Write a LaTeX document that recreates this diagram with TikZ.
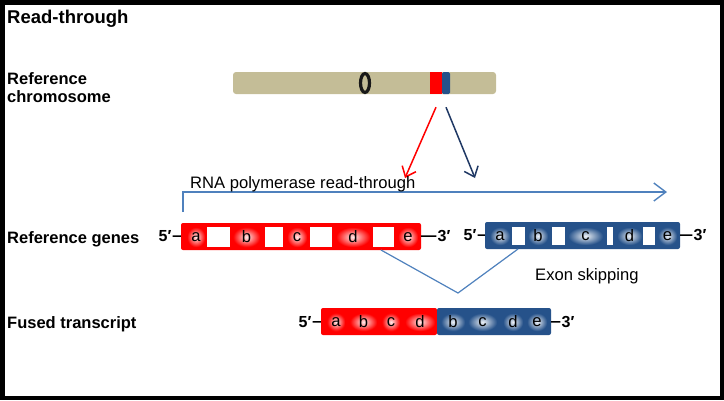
\documentclass[tikz,border=0pt]{standalone}
\usepackage{fontspec}
\setmainfont{Liberation Sans}
\usepackage{tikz}
\usetikzlibrary{shapes,calc,positioning,arrows.meta}

\definecolor{ChromTan}{RGB}{196,189,151}
\definecolor{GeneRed}{RGB}{255,0,0}
\definecolor{GeneBlue}{RGB}{38,82,138}
\definecolor{ArrowNavy}{RGB}{31,56,100}
\definecolor{PolBlue}{RGB}{79,129,189}

\tikzset{
  rowlbl/.style={font=\bfseries\fontsize{16.5}{18}\selectfont, inner sep=0pt},
  endlbl/.style={font=\bfseries\fontsize{16}{18}\selectfont, inner sep=1pt},
  exontxt/.style={font=\fontsize{16.6}{18}\selectfont},
  redexon/.style={rectangle, inner sep=0pt, minimum height=20pt, shading=radial, inner color=GeneRed!8, outer color=GeneRed, exontxt},
  blueexon/.style={rectangle, inner sep=0pt, minimum height=20pt, shading=radial, inner color=GeneBlue!8, outer color=GeneBlue, exontxt},
  genebox/.style={rectangle, rounded corners=2pt, inner sep=0pt, minimum height=27pt},
  tail/.style={line width=1.5pt},
}

\begin{document}
\begin{tikzpicture}[x=1pt,y=-1pt]
\useasboundingbox (0,0) rectangle (724,400);
% Frame
\draw[line width=4.5pt] (2.25,2.25) rectangle (721.75,397.75);

% Row labels
\node[rowlbl, font=\bfseries\fontsize{18.5}{22}\selectfont, anchor=base west] (title) at (7,23) {Read-through};
\node[rowlbl, align=left, anchor=north west] (chromlbl) at (7,72.5) {Reference\\chromosome};
\node[rowlbl, anchor=base west] (geneslbl) at (7,243) {Reference genes};
\node[rowlbl, anchor=base west] (fusedlbl) at (7,328) {Fused transcript};

% Chromosome with centromere and the two loci
\node[fill=ChromTan, rounded corners=3pt, minimum width=263pt, minimum height=22pt, inner sep=0pt] (chrom) at (364.5,83) {};
\node[draw=black!90, line width=3.2pt, fill=ChromTan, ellipse, minimum width=9pt, minimum height=19pt, inner sep=0pt] (centro) at (365,83) {};
\node[fill=GeneRed, minimum width=12pt, minimum height=22pt, inner sep=0pt] (redband) at (436,83) {};
\node[fill=GeneBlue, rounded corners=1.5pt, minimum width=8pt, minimum height=22pt, inner sep=0pt] (blueband) at (446,83) {};

% Arrows down to the genes
\coordinate (redtip) at (405,178);
\coordinate (bluetip) at (475,178);
\draw[GeneRed, line width=1.5pt, -{Straight Barb[length=9pt,width=15pt]}] ([yshift=-13pt]redband.south) -- (redtip);
\draw[ArrowNavy, line width=1.5pt, -{Straight Barb[length=9pt,width=15pt]}] ([yshift=-13pt]blueband.south) -- (bluetip);

% Read-through
\coordinate (polstart) at (183,212);
\coordinate (polend) at (667,192);
\draw[PolBlue, line width=1.4pt, -{Straight Barb[length=12pt,width=18pt]}] (polstart) |- (polend);
\node[exontxt, anchor=base west, inner sep=0pt] (poltxt) at (190,188) {RNA polymerase read-through};

% Red gene
\node[genebox, fill=GeneRed, minimum width=240pt] (rgene) at (301,236.5) {};
\foreach \xa/\xb in {207/230,265/283,310/332,373/394}
  \fill[white] (\xa,227) rectangle (\xb,247);
\foreach \n/\xa/\xb in {a/187/205,b/233/260,c/287/307,d/336/370,e/398/418}{
  \pgfmathsetmacro{\w}{\xb-\xa}
  \node[redexon, minimum width=\w pt] (r\n) at ({(\xa+\xb)/2},237) {\n};
}
\node[endlbl] (r5) at (165,236) {5′};
\node[endlbl] (r3) at (444,236) {3′};
\draw[tail] (r5) -- (rgene);
\draw[tail] (rgene) -- (r3);

% Blue gene
\node[genebox, fill=GeneBlue, minimum width=195pt] (bgene) at (582.5,235.5) {};
\foreach \xa/\xb in {512/525,552/565,607/613,643/655}
  \fill[white] (\xa,227) rectangle (\xb,245);
\foreach \n/\xa/\xb in {a/490/510,b/528/548,c/568/603,d/617/642,e/658/677}{
  \pgfmathsetmacro{\w}{\xb-\xa}
  \node[blueexon, minimum width=\w pt, minimum height=18pt] (b\n) at ({(\xa+\xb)/2},236) {\n};
}
\node[endlbl] (b5) at (470,235) {5′};
\node[endlbl] (b3) at (700,235) {3′};
\draw[tail] (b5) -- (bgene);
\draw[tail] (bgene) -- (b3);

% Exon skipping
\coordinate (skipL) at (381,250);
\coordinate (skipV) at (458,293);
\coordinate (skipR) at (518,249);
\draw[PolBlue, line width=1.2pt] (skipL) -- (skipV) -- (skipR);
\node[exontxt, anchor=base west, inner sep=0pt] (skiptxt) at (535,280) {Exon skipping};

% Fused transcript
\node[genebox, fill=GeneRed, minimum width=116pt] (fred) at (379,321.5) {};
\node[genebox, fill=GeneBlue, minimum width=114pt] (fblue) at (494,321.5) {};
\foreach \n/\xa/\xb in {a/327/345,b/350/377,c/382/400,d/405/435}{
  \pgfmathsetmacro{\w}{\xb-\xa}
  \node[redexon, minimum width=\w pt, minimum height=18pt] (f\n) at ({(\xa+\xb)/2},322) {\n};
}
\foreach \n/\xa/\xb in {b/441/465,c/468/497,d/503/523,e/527/547}{
  \pgfmathsetmacro{\w}{\xb-\xa}
  \node[blueexon, minimum width=\w pt, minimum height=18pt] (g\n) at ({(\xa+\xb)/2},322) {\n};
}
\node[endlbl] (f5) at (305,322) {5′};
\node[endlbl] (f3) at (568,322) {3′};
\draw[tail] (f5) -- (fred);
\draw[tail] (fblue) -- (f3);
\end{tikzpicture}
\end{document}
